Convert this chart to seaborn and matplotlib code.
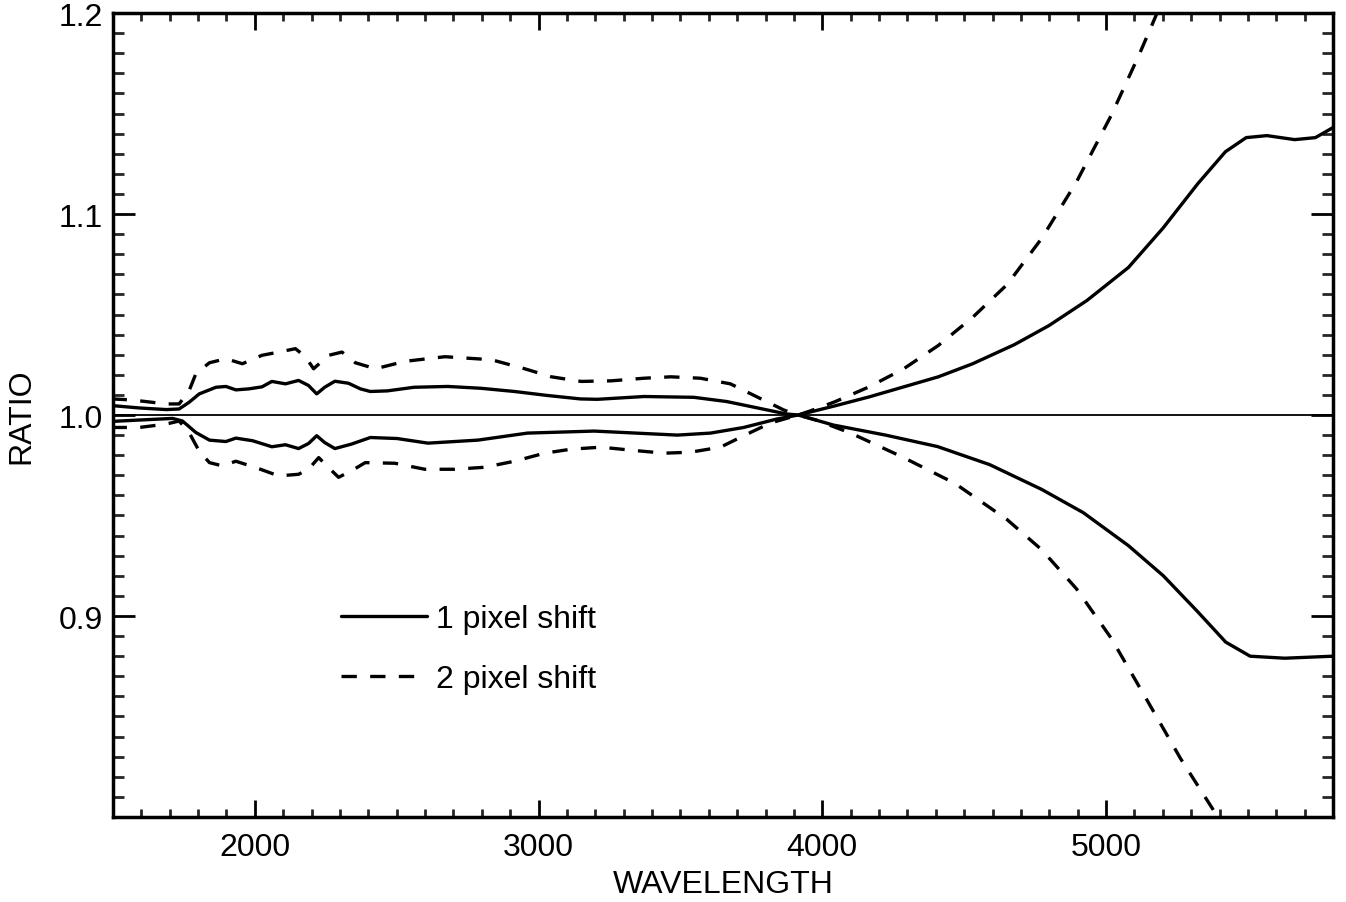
import numpy as np
import pandas as pd
import matplotlib
matplotlib.use("Agg")
import matplotlib.pyplot as plt
import seaborn as sns

# ---- data ----
x_up1 = [1495, 1593, 1688, 1733, 1768, 1804, 1863, 1898, 1933, 1979, 2025, 2060, 2108, 2154, 2189, 2218,
         2246, 2282, 2330, 2372, 2407, 2467, 2561, 2680, 2796, 2915, 3032, 3147, 3207, 3372, 3547, 3663,
         3779, 3874, 3915, 4043, 4165, 4287, 4409, 4530, 4677, 4799, 4933, 5079, 5201, 5323, 5421, 5494,
         5567, 5665, 5738, 5800]
y_up1 = [1.0047, 1.0035, 1.0027, 1.003, 1.0063, 1.0105, 1.0138, 1.0142, 1.0125, 1.013, 1.014, 1.0167,
         1.0155, 1.0172, 1.0147, 1.0105, 1.0138, 1.0168, 1.0158, 1.013, 1.0117, 1.012, 1.0138, 1.0142,
         1.0133, 1.0117, 1.0097, 1.008, 1.0078, 1.0092, 1.0088, 1.0067, 1.0033, 1.0005, 1.0, 1.0045,
         1.009, 1.014, 1.019, 1.0255, 1.035, 1.0445, 1.057, 1.0734, 1.093, 1.115, 1.131, 1.138, 1.139,
         1.137, 1.138, 1.143]

x_lo1 = [1495, 1593, 1710, 1745, 1792, 1840, 1898, 1933, 1992, 2060, 2108, 2154, 2189, 2218, 2246, 2282,
         2340, 2407, 2501, 2610, 2786, 2961, 3196, 3372, 3489, 3606, 3723, 3840, 3915, 4039, 4223, 4406,
         4590, 4773, 4920, 5079, 5202, 5324, 5422, 5508, 5630, 5800]
y_lo1 = [0.9968, 0.9975, 0.9983, 0.997, 0.9913, 0.9875, 0.9868, 0.9885, 0.9872, 0.9842, 0.9852, 0.9833,
         0.9858, 0.9897, 0.9863, 0.9833, 0.9855, 0.9888, 0.9883, 0.986, 0.9875, 0.991, 0.992, 0.9908,
         0.990, 0.991, 0.9938, 0.998, 1.0, 0.995, 0.990, 0.9843, 0.9753, 0.963, 0.9514, 0.935, 0.920,
         0.902, 0.887, 0.880, 0.879, 0.880]

x_up2 = [1495, 1566, 1688, 1733, 1768, 1792, 1840, 1898, 1956, 2025, 2084, 2143, 2178, 2207, 2260, 2307,
         2354, 2425, 2529, 2670, 2834, 2951, 3045, 3150, 3256, 3372, 3466, 3570, 3676, 3770, 3864, 3915,
         3957, 4043, 4165, 4287, 4409, 4530, 4652, 4774, 4896, 5018, 5116, 5177, 5230]
y_up2 = [1.008, 1.0075, 1.0055, 1.0055, 1.012, 1.0205, 1.026, 1.028, 1.0255, 1.0297, 1.0313, 1.033,
         1.029, 1.023, 1.0297, 1.0313, 1.026, 1.023, 1.0267, 1.029, 1.0275, 1.023, 1.019, 1.0167, 1.017,
         1.0183, 1.019, 1.0183, 1.0155, 1.009, 1.0025, 1.0, 1.002, 1.0065, 1.014, 1.023, 1.0346, 1.0486,
         1.065, 1.088, 1.116, 1.149, 1.179, 1.199, 1.215]

x_lo2 = [1495, 1593, 1688, 1733, 1768, 1804, 1840, 1886, 1933, 2004, 2084, 2154, 2189, 2225, 2260, 2295,
         2340, 2389, 2493, 2599, 2704, 2810, 2915, 3021, 3115, 3220, 3326, 3443, 3536, 3641, 3735, 3817,
         3915, 3978, 4100, 4284, 4467, 4651, 4773, 4896, 5018, 5141, 5263, 5385, 5410]
y_lo2 = [0.9938, 0.9938, 0.9955, 0.997, 0.9913, 0.982, 0.9763, 0.9747, 0.977, 0.9738, 0.9697, 0.9705,
         0.973, 0.9788, 0.9738, 0.969, 0.9722, 0.9763, 0.976, 0.973, 0.973, 0.974, 0.977, 0.981, 0.983,
         0.984, 0.9825, 0.981, 0.9815, 0.984, 0.9905, 0.996, 1.0, 0.9975, 0.991, 0.979, 0.966, 0.948,
         0.933, 0.9135, 0.889, 0.859, 0.829, 0.802, 0.796]

labels = ["1 pixel shift", "2 pixel shift"]
x_ticks = [2000, 3000, 4000, 5000]
y_ticks = [0.9, 1.0, 1.1, 1.2]

# ---- build long table ----
frames = []
for xs, ys, lab, br in [(x_up1, y_up1, labels[0], "up"), (x_lo1, y_lo1, labels[0], "lo"),
                        (x_up2, y_up2, labels[1], "up"), (x_lo2, y_lo2, labels[1], "lo")]:
    frames.append(pd.DataFrame({"WAVELENGTH": xs, "RATIO": ys, "shift": lab, "branch": br}))
df = pd.concat(frames, ignore_index=True)

sns.set_theme(style="ticks")
plt.rcParams["font.family"] = ["Liberation Sans", "DejaVu Sans"]
plt.rcParams["text.color"] = "black"
plt.rcParams["axes.labelcolor"] = "black"

FS = 23
LW = 2.4

fig = plt.figure(figsize=(13.46, 9.03), dpi=100)
ax = fig.add_axes([113 / 1346, 1 - 818 / 903, 1220 / 1346, 804 / 903])

sns.lineplot(data=df, x="WAVELENGTH", y="RATIO", style="shift", units="branch", estimator=None,
             sort=False, color="black", linewidth=LW,
             dashes={labels[0]: "", labels[1]: (4.6, 4.0)}, ax=ax)
ax.axhline(1.0, color="black", linewidth=1.3, zorder=1)

ax.set_xlim(1500, 5800)
ax.set_ylim(0.8, 1.2)
ax.set_xticks(x_ticks)
ax.set_xticklabels([str(v) for v in x_ticks])
ax.set_yticks(y_ticks)
ax.set_yticklabels([f"{v:.1f}" for v in y_ticks])
ax.set_xticks(np.arange(1500, 5801, 100), minor=True)
ax.set_yticks(np.arange(0.8, 1.2001, 0.01), minor=True)

ax.tick_params(axis="x", which="major", direction="in", length=12, width=2.0, top=True,
               labelsize=FS, pad=11, colors="black")
ax.tick_params(axis="x", which="minor", direction="in", length=6, width=2.0, top=True)
ax.tick_params(axis="y", which="major", direction="in", length=16, width=2.0, right=True,
               labelsize=FS, pad=7, colors="black")
ax.tick_params(axis="y", which="minor", direction="in", length=8, width=2.0, right=True)
for s in ax.spines.values():
    s.set_visible(True)
    s.set_linewidth(2.5)
    s.set_color("black")

ax.set_xlabel("WAVELENGTH", fontsize=FS, labelpad=5, color="black")
ax.set_ylabel("RATIO", fontsize=FS, labelpad=16, color="black")

leg = ax.legend(loc="upper left", bbox_to_anchor=(0.1865, 0.265), frameon=False, fontsize=FS,
                handlelength=2.7, handletextpad=0.3, labelspacing=0.95, borderpad=0, borderaxespad=0)
for h in leg.get_lines():
    h.set_linewidth(LW)
for t in leg.get_texts():
    t.set_color("black")

fig.savefig("out.png", dpi=100, facecolor="white")
